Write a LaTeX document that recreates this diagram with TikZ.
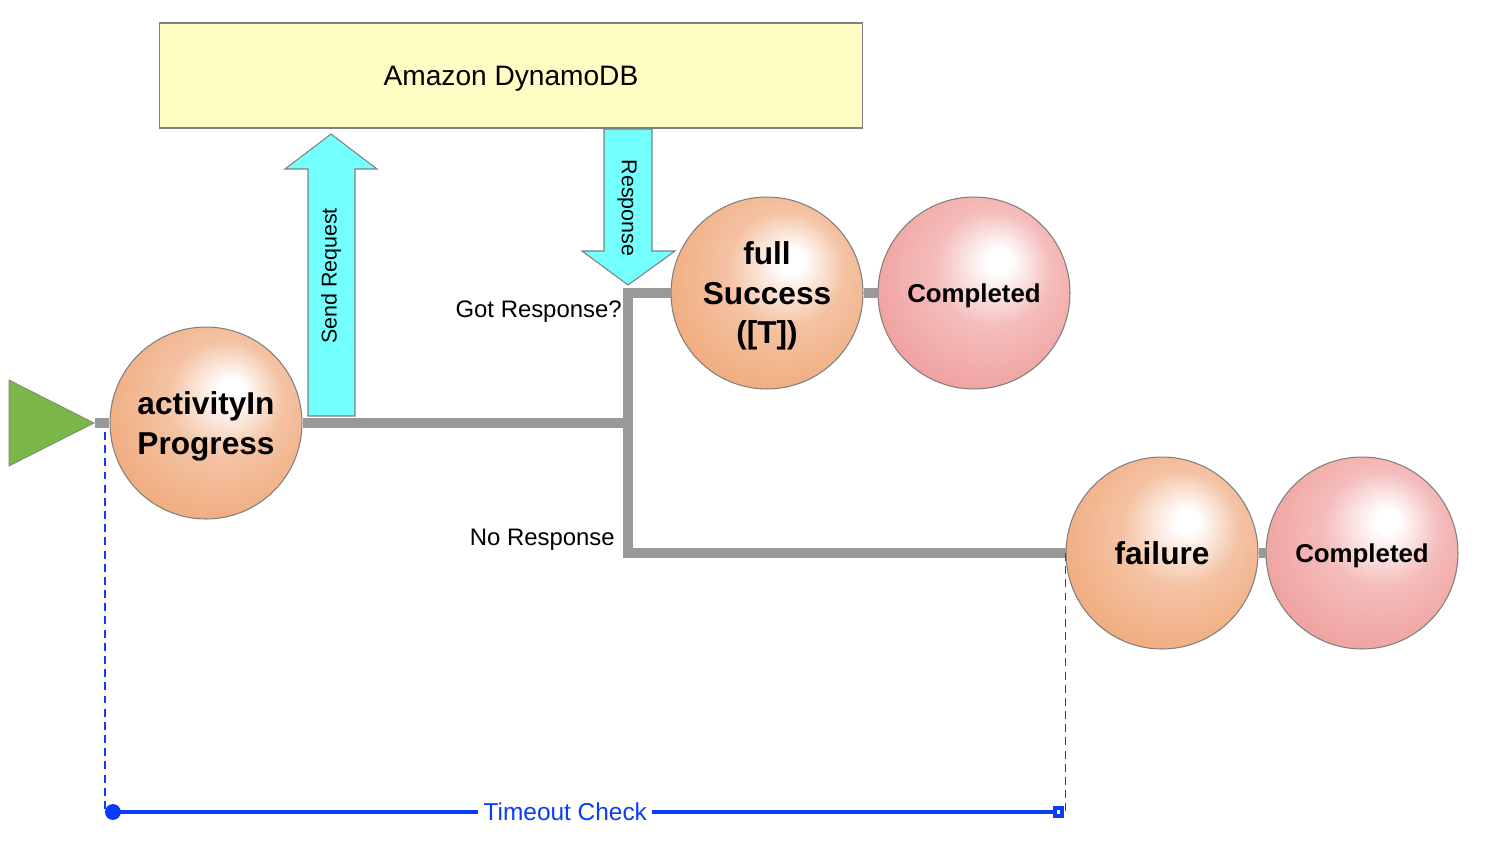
\documentclass[tikz,border=0pt]{standalone}
\usepackage{fontspec}
\setmainfont{Liberation Sans}
\usetikzlibrary{shapes.geometric, arrows.meta, positioning}

\definecolor{flowgray}{HTML}{999999}
\definecolor{edgegray}{HTML}{808080}
\definecolor{dbyellow}{HTML}{FFFDC4}
\definecolor{reqcyan}{HTML}{74FFFF}
\definecolor{startgreen}{HTML}{7AB648}
\definecolor{timeblue}{HTML}{0A3CFA}
\definecolor{orangeMid}{HTML}{F4C3A4}
\definecolor{orangeEdge}{HTML}{EFA36F}
\definecolor{pinkMid}{HTML}{F4BDBC}
\definecolor{pinkEdge}{HTML}{EE9793}

\pgfdeclareradialshading{orangeball}{\pgfpoint{7bp}{9bp}}{color(0bp)=(white); color(3bp)=(white); color(15bp)=(orangeMid); color(36bp)=(orangeEdge); color(50bp)=(orangeEdge)}
\pgfdeclareradialshading{pinkball}{\pgfpoint{7bp}{9bp}}{color(0bp)=(white); color(3bp)=(white); color(15bp)=(pinkMid); color(36bp)=(pinkEdge); color(50bp)=(pinkEdge)}

\tikzset{
  state/.style={circle, draw=edgegray, line width=0.6pt, minimum size=3.84cm, inner sep=0pt, align=center, text depth=0pt, shading=orangeball, font=\fontsize{18}{22.5}\selectfont\bfseries},
  done/.style={state, shading=pinkball, font=\fontsize{14.7}{17}\selectfont\bfseries},
  startnode/.style={isosceles triangle, isosceles triangle stretches, draw=edgegray, fill=startgreen, minimum width=1.72cm, minimum height=1.7cm, inner sep=0pt},
  flow/.style={draw=flowgray, line width=5.7pt},
  dbbox/.style={rectangle, draw=edgegray, line width=0.6pt, fill=dbyellow, minimum width=14.08cm, minimum height=2.1cm, text depth=0pt, font=\fontsize{16}{19}\selectfont},
  blockarrow/.style={draw=edgegray, fill=reqcyan, line width=0.6pt},
  note/.style={font=\fontsize{13.6}{16}\selectfont, inner sep=0pt, text depth=0pt},
  arrownote/.style={font=\fontsize{12.2}{14}\selectfont, inner sep=0pt},
  timer/.style={draw=timeblue, line width=2.3pt, arrows={Circle[length=9pt]-Square[open, length=6.5pt]}},
  guide/.style={draw=timeblue, line width=0.8pt, dash pattern=on 4.5pt off 3pt}
}

\begin{document}
\begin{tikzpicture}[x=0.02cm, y=-0.02cm]
    \useasboundingbox (0,0) rectangle (1500,856);
    % nodes
    \node (start)       [startnode, anchor=apex] at (95,423) {};
    \node (activity)    [state] at (206,423) {activityIn\\Progress};
    \node (dynamo)      [dbbox] at (511,75.5) {Amazon DynamoDB};
    \node (fullSuccess) [state] at (767,293) {full\\Success\\([T])};
    \node (done1)       [done]  at (974,293) {Completed};
    \node (failure)     [state] at (1162,553) {failure};
    \node (done2)       [done]  at (1362,553) {Completed};
    \coordinate (split) at (628,423);
    % labels
    \node (gotResp) [note, anchor=east] at (622,309) {Got Response?};
    \node (noResp)  [note, anchor=east] at (615,537) {No Response};
    % flow lines
    \draw [flow] (start.apex) -- (activity);
    \draw [flow] (activity) -- (split);
    \draw [flow] (fullSuccess.west) -| (split) |- (failure.west);
    \draw [flow] (fullSuccess) -- (done1);
    \draw [flow] (failure) -- (done2);
    % block arrows to and from the database
    \draw [blockarrow] (308,416) -- (308,169) -- (285,169) -- (331,134) -- (377,169) -- (355,169) -- (355,416) -- cycle;
    \node (sendReq) [arrownote, rotate=90] at (331,276) {Send Request};
    \draw [blockarrow] (604,129) -- (604,251) -- (582,251) -- (628,285) -- (675,251) -- (652,251) -- (652,129) -- cycle;
    \node (respLabel) [arrownote, rotate=-90] at (627,208) {Response};
    % timeout
    \coordinate (guideTop) at (105,432);
    \coordinate (tStart) at (105,812);
    \coordinate (tEnd) at (1064,812);
    \draw [guide] (guideTop) -- (tStart);
    \draw [guide] (failure.west) -- (failure.west |- tEnd);
    \draw [timer] (tStart) -- node[pos=0.48, fill=white, text=timeblue, inner sep=3pt, font=\fontsize{13.9}{16}\selectfont] (timeout) {Timeout Check} (tEnd);
\end{tikzpicture}
\end{document}
